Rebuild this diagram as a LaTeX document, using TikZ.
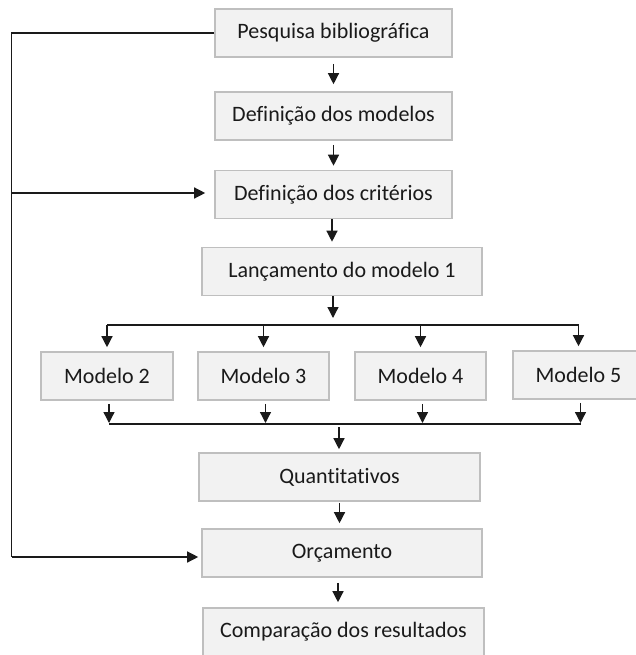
\documentclass[tikz,border=0pt]{standalone}
\usepackage{fontspec}
\setmainfont{Carlito}[Ligatures={NoCommon}]
\usetikzlibrary{arrows.meta}
\definecolor{boxfill}{HTML}{F2F2F2}
\definecolor{boxline}{HTML}{BFBFBF}
\definecolor{ink}{HTML}{1A1A1A}
\begin{document}
\begin{tikzpicture}[x=1pt,y=-1pt,
  every node/.style={font=\fontsize{22}{26}\selectfont, text=ink},
  stepbox/.style={draw=boxline, fill=boxfill, line width=1.6pt, inner sep=0pt, minimum height=48pt},
  conn/.style={draw=ink, line width=1.3pt},
  arr/.style={conn, -{Triangle[width=11pt,length=11pt]}}]
\useasboundingbox (0,0) rectangle (636,655);
\clip (0,0) rectangle (636,655);
% boxes
\node[stepbox, minimum width=237pt] (b1) at (333.5,33) {Pesquisa bibliográfica};
\node[stepbox, minimum width=237pt] (b2) at (333.5,116) {Definição dos modelos};
\node[stepbox, minimum width=237pt] (b3) at (333.5,194.5) {Definição dos critérios};
\node[stepbox, minimum width=280pt] (b4) at (342,271.5) {Lançamento do modelo 1};
\node[stepbox, minimum width=132pt] (m2) at (107,376) {Modelo 2};
\node[stepbox, minimum width=131pt] (m3) at (263.5,376) {Modelo 3};
\node[stepbox, minimum width=131pt] (m4) at (420.5,376) {Modelo 4};
\node[stepbox, minimum width=131pt] (m5) at (578.5,375) {Modelo 5};
\node[stepbox, minimum width=281pt] (q) at (339.5,477) {Quantitativos};
\node[stepbox, minimum width=280pt] (o) at (342,553) {Orçamento};
\node[stepbox, minimum width=281pt] (c) at (343.5,632) {Comparação dos resultados};
% helper coordinates
\coordinate (L1) at (11.5,33);
\coordinate (L3) at (11.5,193);
\coordinate (L2) at (11.5,557);
\coordinate (br) at (333,325);
\coordinate (mg) at (339,424);
% main chain
\draw[arr, shorten <=6pt, shorten >=7pt] (b1.south) -- (b2.north);
\draw[arr, shorten <=4pt, shorten >=4pt] (b2.south) -- (b3.north);
\draw[arr, shorten >=5pt] ([xshift=-1.5pt]b3.south) -- ([xshift=-1.5pt]b3.south |- b4.north);
% branch
\draw[arr, shorten >=7pt] (b4.south -| br) -- (br);
\draw[conn] (m2.north |- br) -- (m5.north |- br);
\foreach \m in {m2,m3,m4,m5}
  \draw[arr, shorten >=4pt] (\m.north |- br) -- (\m.north);
% merge
\foreach \m in {m2,m3,m4,m5}
  \draw[arr, shorten <=3pt, shorten >=1pt] ([xshift=2pt]\m.south) -- ([xshift=2pt]\m.south |- mg);
\draw[conn] ([xshift=2pt]m2.south |- mg) -- ([xshift=2pt]m5.south |- mg);
\draw[arr, shorten <=3pt, shorten >=3pt] (mg) -- (q.north -| mg);
\draw[arr, shorten <=1pt, shorten >=5pt] (q.south) -- (q.south |- o.north);
\draw[arr, shorten <=5pt, shorten >=5pt] ([xshift=-4pt]o.south) -- ([xshift=-4pt]o.south |- c.north);
% feedback loop
\draw[conn] (b1.west) -- (L1) -- (L2);
\draw[arr, shorten >=9pt] (L3) -- (b3.west |- L3);
\draw[arr, shorten >=3pt] (L2) -- (o.west |- L2);
\end{tikzpicture}
\end{document}
